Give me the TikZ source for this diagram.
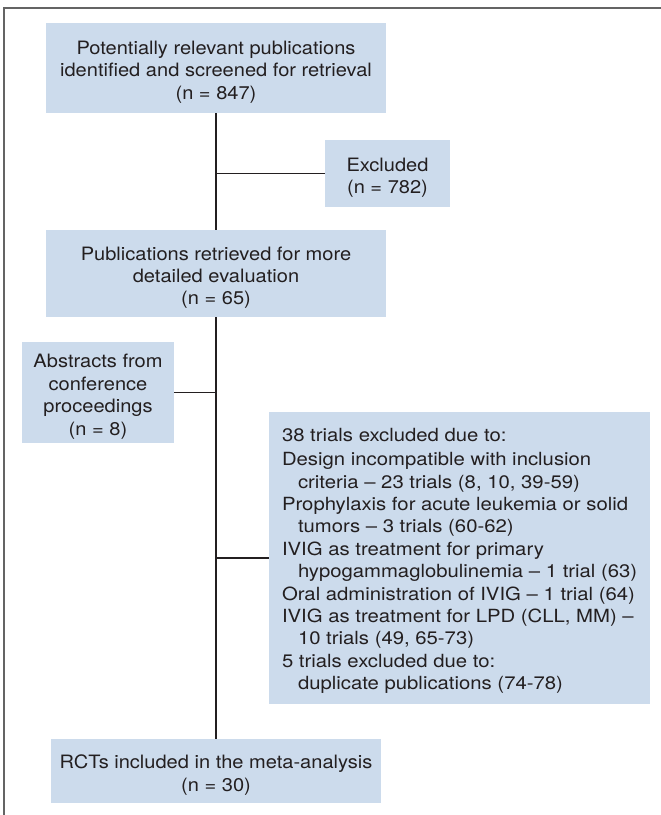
\documentclass[tikz,border=0pt]{standalone}
\usepackage{fontspec}
\setmainfont{TeX Gyre Heros}
\newfontfamily\boxfont[FakeStretch=1.09,Ligatures=TeX]{TeX Gyre Heros}
\newfontfamily\listfont[FakeStretch=1.12,Ligatures=TeX]{TeX Gyre Heros}
\definecolor{boxfill}{RGB}{204,219,236}
\definecolor{txtc}{RGB}{35,31,32}
\definecolor{framec}{RGB}{100,100,100}
\newcommand{\topgap}{\rule{0pt}{16.3pt}}
\begin{document}
\begin{tikzpicture}[x=0.75pt,y=-0.75pt,
  box/.style={fill=boxfill, draw=none, text=txtc, align=center, inner sep=0pt,
    font=\boxfont\fontsize{13.8}{16.8}\selectfont},
  conn/.style={draw=txtc, line width=1.1pt}]
\useasboundingbox (0,0) rectangle (661,815);
\draw[framec, line width=1.5pt] (3.5,815) -- (3.5,7.5) -- (661,7.5);

\node[box, minimum width=255pt, minimum height=67.5pt] (b1) at (216,68)
  {\topgap Potentially relevant publications\\identified and screened for retrieval\\(n = 847)};
\node[box, minimum width=93.75pt, minimum height=50.25pt] (ex) at (387.5,173.5)
  {\topgap Excluded\\(n = 782)};
\node[box, minimum width=255pt, minimum height=65.25pt] (b2) at (216,273.5)
  {\topgap Publications retrieved for more\\detailed evaluation\\(n = 65)};
\node[box, minimum width=114pt, minimum height=75.75pt] (ab) at (98,392.5)
  {\topgap Abstracts from\\conference\\proceedings\\(n = 8)};
\node[box, inner xsep=9.75pt, inner ysep=0pt,
  minimum width=285.75pt, minimum height=219pt,
  font=\listfont\fontsize{13.6}{16.8}\selectfont] (big) at (459.5,558)
  {\makebox[266.25pt][l]{\begin{tabular}{@{}l@{}}
   \topgap 38 trials excluded due to:\\[1.5pt]
   Design incompatible with inclusion\\
   \hspace*{12pt}criteria – 23 trials (8, 10, 39-59)\\
   Prophylaxis for acute leukemia or solid\\
   \hspace*{12pt}tumors – 3 trials (60-62)\\
   IVIG as treatment for primary\\
   \hspace*{12pt}hypogammaglobulinemia – 1 trial (63)\\
   Oral administration of IVIG – 1 trial (64)\\
   IVIG as treatment for LPD (CLL, MM) –\\
   \hspace*{12pt}10 trials (49, 65-73)\\
   5 trials excluded due to:\\
   \hspace*{12pt}duplicate publications (74-78)
  \end{tabular}}};
\node[box, minimum width=247.5pt, minimum height=48pt] (fin) at (216,771)
  {\topgap RCTs included in the meta-analysis\\(n = 30)};

\draw[conn] (b1.south) -- (b2.north);
\draw[conn] (b2.south) -- (fin.north);
\draw[conn] (ex.west) -- (ex.west -| b1.south);
\draw[conn] (ab.east) -- (ab.east -| b2.south);
\draw[conn] (big.west) -- (big.west -| b2.south);
\end{tikzpicture}
\end{document}
